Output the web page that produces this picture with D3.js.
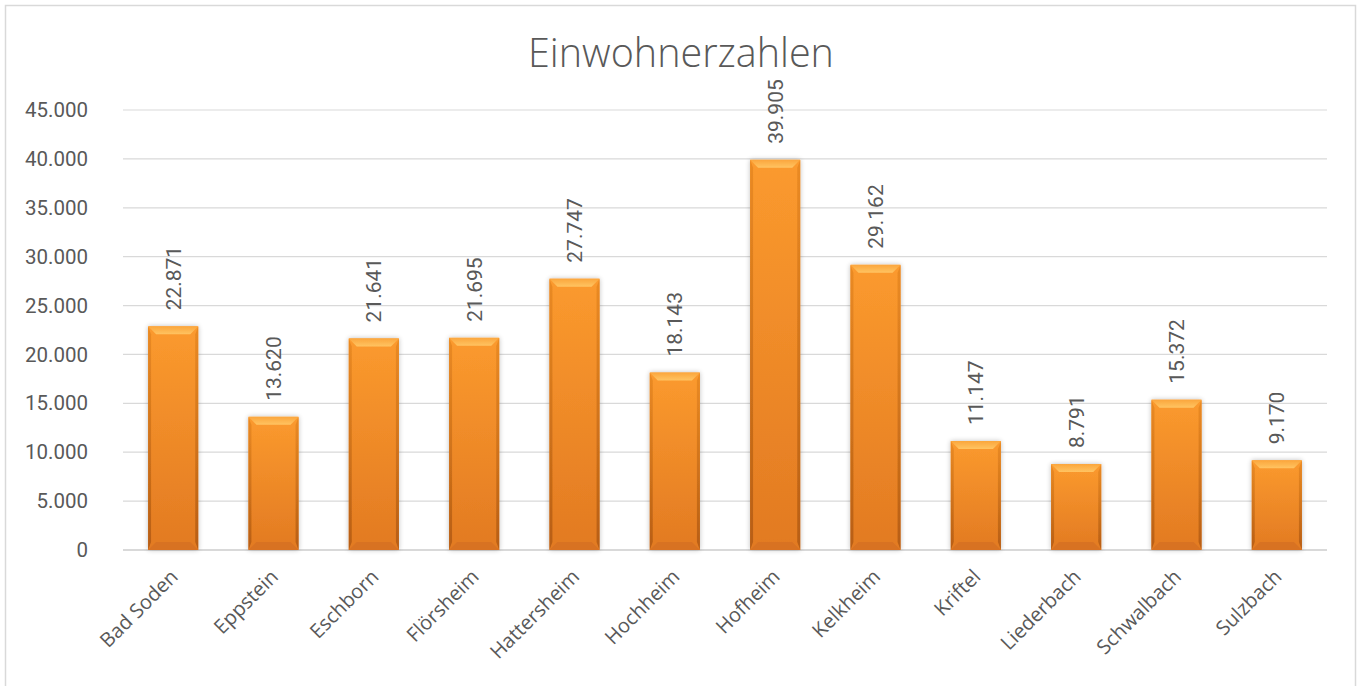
<!DOCTYPE html>
<html>
<head>
<meta charset="utf-8">
<script src="https://cdn.jsdelivr.net/npm/d3@7"></script>
<style>
  body { margin: 0; background: #fff; }
  text { font-family: "Open Sans", "Noto Sans", sans-serif; fill: #595959; }
</style>
</head>
<body>
<script>
// data
let orte = ['Bad Soden', 'Eppstein', 'Eschborn', 'Flörsheim', 'Hattersheim', 'Hochheim',
  'Hofheim', 'Kelkheim', 'Kriftel', 'Liederbach', 'Schwalbach', 'Sulzbach']
let einwohner = [22871, 13620, 21641, 21695, 27747, 18143, 39905, 29162, 11147, 8791, 15372, 9170]
let yTicks = [0, 5000, 10000, 15000, 20000, 25000, 30000, 35000, 40000, 45000]
let titel = 'Einwohnerzahlen'

let width = 1361, height = 686
let plot = {left: 123, right: 1327, top: 110, bottom: 550}

let de = d3.formatLocale({decimal: ',', thousands: '.', grouping: [3], currency: ['', '€']})
let fmt = de.format(',.0f')

let svg = d3.select('body').append('svg')
  .attr('width', width)
  .attr('height', height)

let defs = svg.append('defs')

// body gradient of the bars
let gBody = defs.append('linearGradient').attr('id', 'body').attr('x1', 0).attr('y1', 0).attr('x2', 0).attr('y2', 1)
gBody.append('stop').attr('offset', '0%').attr('stop-color', '#FB9A2E')
gBody.append('stop').attr('offset', '100%').attr('stop-color', '#E27A22')

let gSide = defs.append('linearGradient').attr('id', 'side').attr('x1', 0).attr('y1', 0).attr('x2', 0).attr('y2', 1)
gSide.append('stop').attr('offset', '0%').attr('stop-color', '#E5851F')
gSide.append('stop').attr('offset', '100%').attr('stop-color', '#A9540F')

let gTop = defs.append('linearGradient').attr('id', 'top').attr('x1', 0).attr('y1', 0).attr('x2', 0).attr('y2', 1)
gTop.append('stop').attr('offset', '0%').attr('stop-color', '#FBA63C')
gTop.append('stop').attr('offset', '100%').attr('stop-color', '#FFC462')

let shadow = defs.append('filter').attr('id', 'shadow').attr('x', '-20%').attr('y', '-5%').attr('width', '140%').attr('height', '110%')
shadow.append('feGaussianBlur').attr('in', 'SourceAlpha').attr('stdDeviation', 2.5).attr('result', 'blur')
shadow.append('feComponentTransfer').append('feFuncA').attr('type', 'linear').attr('slope', 0.25)
let merge = shadow.append('feMerge')
merge.append('feMergeNode')
merge.append('feMergeNode').attr('in', 'SourceGraphic')

// chart border
svg.append('rect')
  .attr('x', 5.5).attr('y', 5.5)
  .attr('width', 1350).attr('height', 700)
  .attr('fill', '#fff')
  .attr('stroke', '#d9d9d9')
  .attr('stroke-width', 1.5)

svg.append('text')
  .attr('x', 681)
  .attr('y', 67)
  .attr('text-anchor', 'middle')
  .style('font-size', '39.5px')
  .style('font-weight', 300)
  .text(titel)

let x = d3.scaleBand()
  .domain(orte)
  .range([plot.left, plot.right])
  .paddingInner(0.5)
  .paddingOuter(0.25)

let y = d3.scaleLinear()
  .domain([0, 45000])
  .range([plot.bottom, plot.top])

// gridlines
svg.append('g')
  .selectAll('line')
  .data(yTicks)
  .join('line')
  .attr('x1', plot.left)
  .attr('x2', plot.right)
  .attr('y1', d => y(d))
  .attr('y2', d => y(d))
  .attr('stroke', '#d9d9d9')
  .attr('stroke-width', d => d === 0 ? 2 : 1.2)

// y axis labels
let yAxis = svg.append('g')
  .attr('transform', `translate(${plot.left - 35},0)`)
  .call(d3.axisLeft(y).tickValues(yTicks).tickFormat(d => fmt(d)).tickSize(0).tickPadding(0))
yAxis.select('.domain').remove()
yAxis.selectAll('text')
  .style('font-size', '20.5px')
  .style('font-family', 'Roboto, "Open Sans", sans-serif')
  .attr('fill', '#595959')

// bars
let bev = 8
let bars = svg.append('g')
  .selectAll('g')
  .data(orte.map((o, i) => ({ort: o, wert: einwohner[i]})))
  .join('g')
  .attr('filter', 'url(#shadow)')

bars.each(function (d) {
  let g = d3.select(this)
  let x0 = x(d.ort), w = x.bandwidth()
  let y0 = y(d.wert), y1 = y(0)
  let x1 = x0 + w
  g.append('rect')
    .attr('x', x0).attr('y', y0)
    .attr('width', w).attr('height', y1 - y0)
    .attr('fill', 'url(#body)')
  // left and right edges
  g.append('polygon')
    .attr('points', [[x0, y0], [x0 + 3, y0 + bev], [x0 + 3, y1 - bev], [x0, y1]].join(' '))
    .attr('fill', 'url(#side)')
    .attr('opacity', 0.75)
  g.append('polygon')
    .attr('points', [[x1, y0], [x1 - 3, y0 + bev], [x1 - 3, y1 - bev], [x1, y1]].join(' '))
    .attr('fill', 'url(#side)')
    .attr('opacity', 0.75)
  // top bevel
  g.append('polygon')
    .attr('points', [[x0, y0], [x1, y0], [x1 - bev, y0 + bev], [x0 + bev, y0 + bev]].join(' '))
    .attr('fill', 'url(#top)')
  // bottom bevel
  g.append('polygon')
    .attr('points', [[x0, y1], [x1, y1], [x1 - bev, y1 - bev], [x0 + bev, y1 - bev]].join(' '))
    .attr('fill', '#D87220')
})

// value labels
svg.append('g')
  .selectAll('text')
  .data(orte.map((o, i) => ({ort: o, wert: einwohner[i]})))
  .join('text')
  .attr('transform', d => `translate(${x(d.ort) + x.bandwidth() / 2 + 7.5},${y(d.wert) - 16}) rotate(-90)`)
  .attr('text-anchor', 'start')
  .style('font-size', '21px')
  .style('font-family', 'Roboto, "Open Sans", sans-serif')
  .text(d => fmt(d.wert))

// category labels
svg.append('g')
  .selectAll('text')
  .data(orte)
  .join('text')
  .attr('transform', d => `translate(${x(d) + x.bandwidth() / 2 + 6},${plot.bottom + 28}) rotate(-45)`)
  .attr('text-anchor', 'end')
  .style('font-size', '20px')
  .text(d => d)
</script>
</body>
</html>
